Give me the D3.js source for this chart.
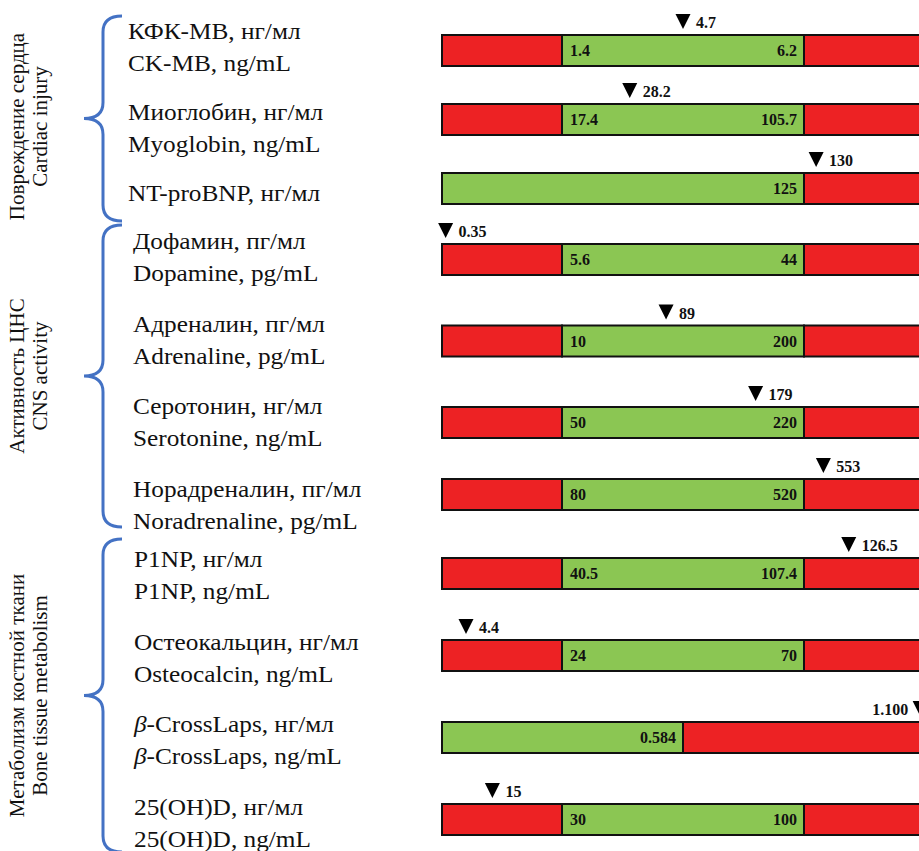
<!DOCTYPE html>
<html>
<head>
<meta charset="utf-8">
<script src="https://cdn.jsdelivr.net/npm/d3@7"></script>
<style>
  html, body { margin: 0; padding: 0; background: #fff; overflow: hidden; }
  svg { display: block; }
</style>
</head>
<body>
<svg id="chart" width="919" height="851"></svg>
<script>
// ---------------- DATA ----------------
const labelsRu = ["КФК-МВ, нг/мл", "Миоглобин, нг/мл", "NT-proBNP, нг/мл",
  "Дофамин, пг/мл", "Адреналин, пг/мл", "Серотонин, нг/мл", "Норадреналин, пг/мл",
  "P1NP, нг/мл", "Остеокальцин, нг/мл", "β-CrossLaps, нг/мл", "25(OH)D, нг/мл"];
const labelsEn = ["CK-MB, ng/mL", "Myoglobin, ng/mL", null,
  "Dopamine, pg/mL", "Adrenaline, pg/mL", "Serotonine, ng/mL", "Noradrenaline, pg/mL",
  "P1NP, ng/mL", "Osteocalcin, ng/mL", "β-CrossLaps, ng/mL", "25(OH)D, ng/mL"];

// reference (normal) range limits
const lowerLimits = ["1.4", "17.4", null, "5.6", "10", "50", "80", "40.5", "24", null, "30"];
const upperLimits = ["6.2", "105.7", "125", "44", "200", "220", "520", "107.4", "70", "0.584", "100"];

// schematic zone of the normal range (0 = bar start, 1 = lower limit, 2 = upper limit, 3 = bar end)
const normalStart = [1, 1, 0, 1, 1, 1, 1, 1, 1, 0, 1];
const normalEnd   = [2, 2, 2, 2, 2, 2, 2, 2, 2, 1.5, 2];

// patient values and their schematic zone position
const markerValues = ["4.7", "28.2", "130", "0.35", "89", "179", "553", "126.5", "4.4", "1.100", "15"];
const markerZones  = [1.5, 1.28, 2.1, 0.03, 1.43, 1.8, 2.16, 2.37, 0.2, 2.96, 0.42];
const markerLabelSide = ["r", "r", "r", "r", "r", "r", "r", "r", "r", "l", "r"];

// groups
const groupTitlesRu = ["Повреждение сердца", "Активность ЦНС", "Метаболизм костной ткани"];
const groupTitlesEn = ["Cardiac injury", "CNS activity", "Bone tissue metabolism"];
const groupFirst = [0, 3, 7];
const groupLast  = [2, 6, 10];

// ---------------- LAYOUT ----------------
const RED = "#ED2224", GREEN = "#8BC653", BLUE = "#4472C4";
const BAR_H = 31;
const labelX = [128, 133, 134];
const SERIF = "'Liberation Serif', 'Times New Roman', serif";

const svg = d3.select("#chart");
svg.append("rect").attr("width", 919).attr("height", 851).attr("fill", "#fff");

// zone scale → x
const x = d3.scaleLinear().domain([0, 1, 2, 3]).range([442, 562, 804, 925]);
// row index → bar top
const yBar = d3.scaleLinear().domain([0, 2, 3, 5, 6, 7, 10]).range([35, 173, 244, 407, 479, 558, 804]);
// row index → label first baseline
const yLab = d3.scaleLinear().domain([0, 2, 3, 6, 7, 10]).range([39, 201, 249, 497, 567, 815]);

const rows = d3.range(labelsRu.length);

// ---------------- BARS ----------------
const gBars = svg.append("g");
rows.forEach(i => {
  const segs = [];
  if (normalStart[i] > 0) segs.push([0, normalStart[i], RED]);
  segs.push([normalStart[i], normalEnd[i], GREEN]);
  segs.push([normalEnd[i], 3, RED]);
  const top = yBar(i);
  gBars.selectAll(null).data(segs).enter().append("rect")
    .attr("x", d => x(d[0]))
    .attr("y", top)
    .attr("width", d => x(d[1]) - x(d[0]))
    .attr("height", BAR_H)
    .attr("fill", d => d[2])
    .attr("stroke", "#111")
    .attr("stroke-width", 2);

  if (lowerLimits[i] !== null) {
    gBars.append("text")
      .attr("x", x(normalStart[i]) + 8)
      .attr("y", top + BAR_H / 2 + 5.5)
      .attr("font-family", SERIF).attr("font-size", 16)
      .attr("font-weight", "bold").attr("fill", "#111")
      .text(lowerLimits[i]);
  }
  gBars.append("text")
    .attr("x", x(normalEnd[i]) - 7)
    .attr("y", top + BAR_H / 2 + 5.5)
    .attr("text-anchor", "end")
    .attr("font-family", SERIF).attr("font-size", 16)
    .attr("font-weight", "bold").attr("fill", "#111")
    .text(upperLimits[i]);

  // marker
  const cx = x(markerZones[i]);
  const tip = top - 6, tw = 7.5, th = 15;
  gBars.append("path")
    .attr("d", `M${cx - tw},${tip - th}L${cx + tw},${tip - th}L${cx},${tip}Z`)
    .attr("fill", "#000");
  const left = markerLabelSide[i] === "l";
  gBars.append("text")
    .attr("x", left ? cx - 12 : cx + 13)
    .attr("y", top - 7)
    .attr("text-anchor", left ? "end" : "start")
    .attr("font-family", SERIF).attr("font-size", 16)
    .attr("font-weight", "bold").attr("fill", "#111")
    .text(markerValues[i]);
});

// ---------------- LABELS ----------------
const gLab = svg.append("g");
function groupOf(i) { return groupFirst.findIndex((f, g) => i >= f && i <= groupLast[g]); }
function addLabel(g, str, yy) {
  const t = g.append("text")
    .attr("y", yy)
    .attr("font-family", SERIF)
    .attr("font-size", 23)
    .attr("fill", "#111");
  if (str.startsWith("β")) {
    t.append("tspan").attr("font-style", "italic").text("β");
    t.append("tspan").text(str.slice(1));
  } else {
    t.text(str);
  }
}
rows.forEach(i => {
  const g = gLab.append("g")
    .attr("transform", `translate(${labelX[groupOf(i)]},0) scale(1.1,1)`);
  addLabel(g, labelsRu[i], yLab(i));
  if (labelsEn[i]) addLabel(g, labelsEn[i], yLab(i) + 32);
});

// ---------------- BRACES & GROUP TITLES ----------------
const gBr = svg.append("g");
groupTitlesRu.forEach((title, gi) => {
  const top = yBar(groupFirst[gi]) - 19;
  const bottom = yBar(groupLast[gi]) + BAR_H + 17;
  const mid = (top + bottom) / 2;
  const hookX = 122, spineX = 103, tipX = 84, r = 16, r2 = 16;
  const p = d3.path();
  p.moveTo(hookX, top);
  p.quadraticCurveTo(spineX, top, spineX, top + r);
  p.lineTo(spineX, mid - r2);
  p.quadraticCurveTo(spineX, mid, tipX, mid);
  p.quadraticCurveTo(spineX, mid, spineX, mid + r2);
  p.lineTo(spineX, bottom - r);
  p.quadraticCurveTo(spineX, bottom, hookX, bottom);
  gBr.append("path").attr("d", p.toString())
    .attr("fill", "none").attr("stroke", BLUE).attr("stroke-width", 3);

  const titleMid = gi === 0 ? mid + 8 : mid;
  [[title, 24], [groupTitlesEn[gi], 47]].forEach(([txt, bx]) => {
    gBr.append("text")
      .attr("transform", `translate(${bx},${titleMid}) rotate(-90)`)
      .attr("text-anchor", "middle")
      .attr("font-family", SERIF)
      .attr("font-size", 21)
      .attr("fill", "#111")
      .text(txt);
  });
});
</script>
</body>
</html>
